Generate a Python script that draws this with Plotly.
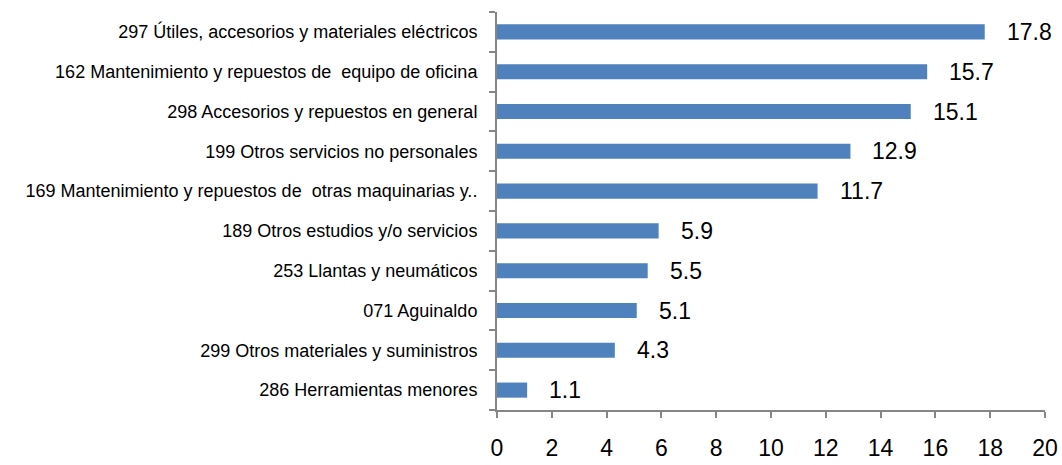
import plotly.graph_objects as go

categories = [
    "297 Útiles, accesorios y materiales eléctricos",
    "162 Mantenimiento y repuestos de  equipo de oficina",
    "298 Accesorios y repuestos en general",
    "199 Otros servicios no personales",
    "169 Mantenimiento y repuestos de  otras maquinarias y..",
    "189 Otros estudios y/o servicios",
    "253 Llantas y neumáticos",
    "071 Aguinaldo",
    "299 Otros materiales y suministros",
    "286 Herramientas menores",
]
values = [17.8, 15.7, 15.1, 12.9, 11.7, 5.9, 5.5, 5.1, 4.3, 1.1]
value_labels = ["17.8", "15.7", "15.1", "12.9", "11.7", "5.9", "5.5", "5.1", "4.3", "1.1"]
x_ticks = [0, 2, 4, 6, 8, 10, 12, 14, 16, 18, 20]

cats = categories[::-1]
vals = values[::-1]
labs = value_labels[::-1]

font_family = "Liberation Sans Narrow, Arial Narrow, Liberation Sans, sans-serif"

fig = go.Figure()
fig.add_trace(go.Bar(
    x=vals, y=cats, orientation="h",
    marker=dict(color="#4F81BD", line=dict(width=0)),
    width=0.38,
))

for c, v, t in zip(cats, vals, labs):
    fig.add_annotation(x=v, y=c, text=t, showarrow=False, xanchor="left",
                       xshift=20, yshift=0,
                       font=dict(family=font_family, size=23, color="#000000"))

fig.update_layout(
    width=1062, height=465,
    margin=dict(l=497, r=17, t=12, b=55),
    plot_bgcolor="white", paper_bgcolor="white",
    showlegend=False,
)
fig.update_xaxes(
    range=[0, 20], tickvals=x_ticks, ticktext=[str(t) for t in x_ticks],
    showgrid=False, zeroline=False, showline=True, linecolor="#868686", linewidth=2,
    ticks="outside", ticklen=6, tickcolor="#868686", tickwidth=2,
    tickfont=dict(family=font_family, size=23, color="#000000"),
    ticklabelstandoff=10, automargin=False,
)
fig.update_yaxes(
    type="category", categoryorder="array", categoryarray=cats,
    showgrid=False, zeroline=False, showline=True, linecolor="#868686", linewidth=2,
    ticks="outside", ticklen=6, tickcolor="#868686", tickwidth=2, tickson="boundaries",
    tickfont=dict(family=font_family, size=18, color="#000000"),
    ticklabelstandoff=14, automargin=False,
)

fig.write_html("out.html")
